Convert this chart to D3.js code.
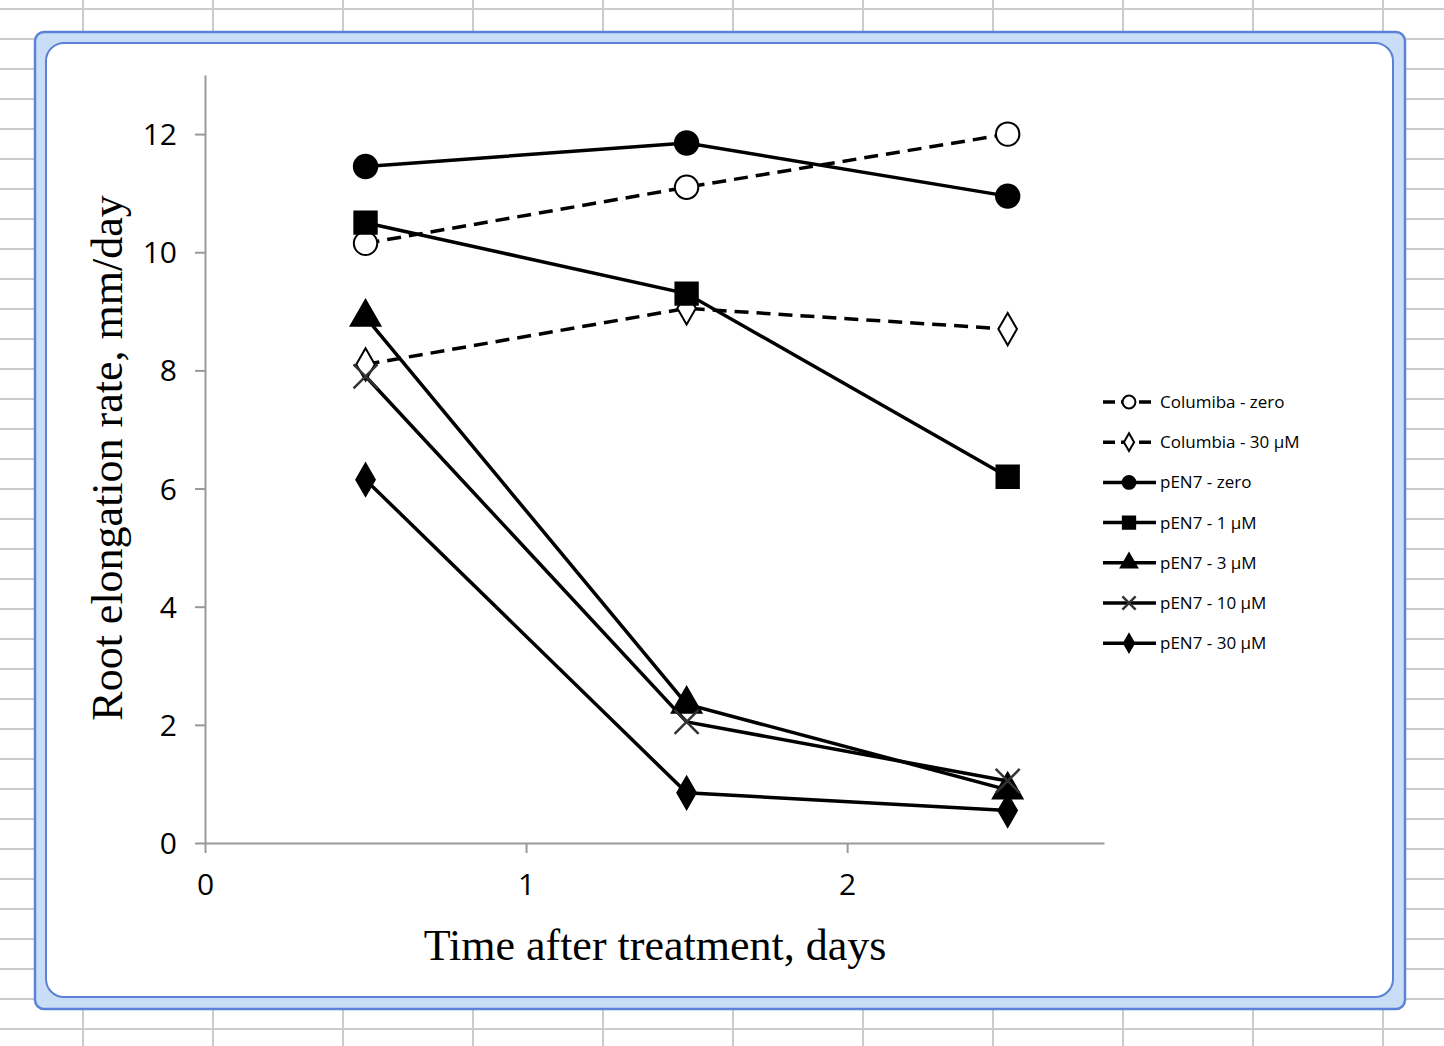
<!DOCTYPE html>
<html><head><meta charset="utf-8">
<script src="https://cdn.jsdelivr.net/npm/d3@7"></script>
<style>body{margin:0;background:#fff}svg{display:block}</style>
</head><body>
<svg width="1444" height="1046"></svg>
<script>
var days = [0.5, 1.5, 2.5];
var seriesNames = ["Columiba - zero", "Columbia - 30 µM", "pEN7 - zero", "pEN7 - 1 µM", "pEN7 - 3 µM", "pEN7 - 10 µM", "pEN7 - 30 µM"];
var colZero = [10.15, 11.1, 12.0];
var col30 = [8.1, 9.05, 8.7];
var penZero = [11.45, 11.85, 10.95];
var pen1 = [10.5, 9.3, 6.2];
var pen3 = [8.9, 2.35, 0.9];
var pen10 = [7.9, 2.05, 1.05];
var pen30 = [6.15, 0.85, 0.55];
var xTicks = [0, 1, 2];
var yTicks = [0, 2, 4, 6, 8, 10, 12];

var series = [
  {name: seriesNames[0], vals: colZero, dash: true, sym: d3.symbolCircle, fill: "#fff", size: 430},
  {name: seriesNames[1], vals: col30, dash: true, sym: d3.symbolDiamond, fill: "#fff", size: 300},
  {name: seriesNames[2], vals: penZero, dash: false, sym: d3.symbolCircle, fill: "#000", size: 430},
  {name: seriesNames[3], vals: pen1, dash: false, sym: d3.symbolSquare, fill: "#000", size: 500},
  {name: seriesNames[4], vals: pen3, dash: false, sym: d3.symbolTriangle, fill: "#000", size: 380},
  {name: seriesNames[5], vals: pen10, dash: false, sym: "x", fill: "none", size: 12},
  {name: seriesNames[6], vals: pen30, dash: false, sym: d3.symbolDiamond, fill: "#000", size: 300}
];

var svg = d3.select("svg");

// spreadsheet grid behind
var bg = svg.append("g");
d3.range(83, 1444, 130).forEach(function(x){
  bg.append("line").attr("x1", x).attr("x2", x).attr("y1", 0).attr("y2", 1046).attr("stroke", "#ccc").attr("stroke-width", 2);
});
d3.range(9, 1046, 30).forEach(function(y){
  bg.append("line").attr("x1", 0).attr("x2", 1444).attr("y1", y).attr("y2", y).attr("stroke", "#ccc").attr("stroke-width", 2);
});

// selected chart frame
svg.append("rect").attr("x", 35).attr("y", 32).attr("width", 1370).attr("height", 977).attr("rx", 9)
  .attr("fill", "#c9ddf6").attr("stroke", "#5b82d6").attr("stroke-width", 2.5);
svg.append("rect").attr("x", 46).attr("y", 43).attr("width", 1347).attr("height", 954).attr("rx", 18)
  .attr("fill", "#fff").attr("stroke", "#5b82d6").attr("stroke-width", 2);

var x = d3.scaleLinear().domain([0, 2.8]).range([205, 1104]);
var y = d3.scaleLinear().domain([0, 13]).range([843, 75]);

var xAxis = svg.append("g").attr("transform", "translate(0,843)")
  .call(d3.axisBottom(x).tickValues(xTicks).tickSize(10).tickSizeOuter(0).tickFormat(d3.format("d")));
var yAxis = svg.append("g").attr("transform", "translate(205,0)")
  .call(d3.axisLeft(y).tickValues(yTicks).tickSize(10).tickSizeOuter(0));
[xAxis, yAxis].forEach(function(a){
  a.select(".domain").attr("stroke", "#999").attr("stroke-width", 2);
  a.selectAll(".tick line").attr("stroke", "#999").attr("stroke-width", 2);
  a.selectAll("text").attr("font-family", "Open Sans, sans-serif").attr("font-size", 30).attr("fill", "#000");
});
xAxis.selectAll("text").attr("dy", "1.3em");
yAxis.selectAll("text").attr("dx", "-0.5em").attr("dy", "0.35em");
xAxis.select(".tick text").attr("dx", 0);

svg.append("text").attr("x", 655).attr("y", 960).attr("text-anchor", "middle")
  .attr("font-family", "Liberation Serif, serif").attr("font-size", 44).text("Time after treatment, days");
svg.append("text").attr("transform", "translate(122,458) rotate(-90)").attr("text-anchor", "middle")
  .attr("font-family", "Liberation Serif, serif").attr("font-size", 44).text("Root elongation rate, mm/day");

var line = d3.line().x(function(d, i){ return x(days[i]); }).y(function(d){ return y(d); });

function marker(g, s, cx, cy, scale) {
  if (s.sym === "x") {
    var r = s.size * scale;
    g.append("path").attr("d", "M" + (cx - r) + "," + (cy - r) + "L" + (cx + r) + "," + (cy + r) + "M" + (cx - r) + "," + (cy + r) + "L" + (cx + r) + "," + (cy - r))
      .attr("stroke", "#333").attr("stroke-width", 2.5).attr("fill", "none");
  } else {
    g.append("path").attr("d", d3.symbol().type(s.sym).size(s.size * scale * scale)())
      .attr("transform", "translate(" + cx + "," + cy + ")")
      .attr("fill", s.fill).attr("stroke", "#000").attr("stroke-width", 2);
  }
}

var plot = svg.append("g");
series.forEach(function(s){
  plot.append("path").datum(s.vals).attr("d", line).attr("fill", "none")
    .attr("stroke", "#000").attr("stroke-width", 3.5).attr("stroke-dasharray", s.dash ? "14,8" : null);
});
series.forEach(function(s){
  s.vals.forEach(function(v, i){ marker(plot, s, x(days[i]), y(v), 1); });
});

// legend
var lg = svg.append("g");
series.forEach(function(s, i){
  var ly = 402 + i * 40.2;
  lg.append("line").attr("x1", 1103).attr("x2", 1156).attr("y1", ly).attr("y2", ly)
    .attr("stroke", "#000").attr("stroke-width", 3.5).attr("stroke-dasharray", s.dash ? "12,6" : null);
  marker(lg, s, 1129, ly, 0.55);
  lg.append("text").attr("x", 1160).attr("y", ly).attr("dy", "0.35em")
    .attr("font-family", "Open Sans, sans-serif").attr("font-size", 17).text(s.name);
});
</script>
</body></html>
